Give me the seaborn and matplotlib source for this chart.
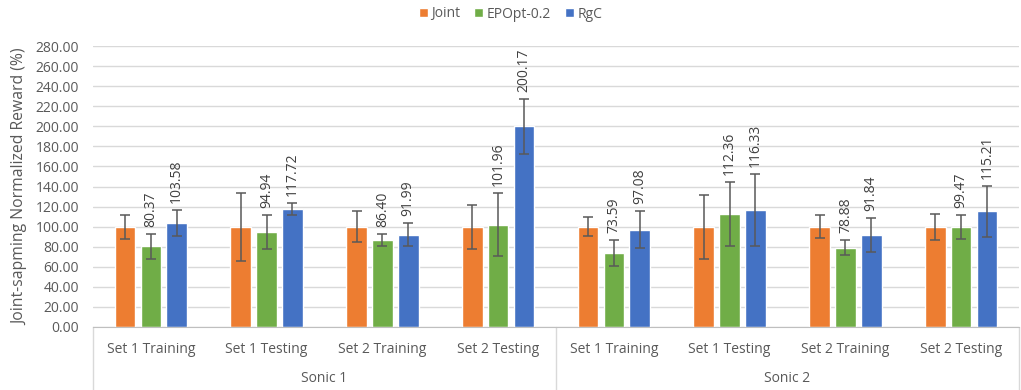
import numpy as np
import pandas as pd
import matplotlib
matplotlib.use("Agg")
import matplotlib.pyplot as plt
import seaborn as sns

# data
groups = ["Sonic 1", "Sonic 2"]
sets = ["Set 1 Training", "Set 1 Testing", "Set 2 Training", "Set 2 Testing"]
methods = ["Joint", "EPOpt-0.2", "RgC"]

joint = [100.00, 100.00, 100.00, 100.00, 100.00, 100.00, 100.00, 100.00]
epopt = [80.37, 94.94, 86.40, 101.96, 73.59, 112.36, 78.88, 99.47]
rgc = [103.58, 117.72, 91.99, 200.17, 97.08, 116.33, 91.84, 115.21]

joint_err = [12.0, 34.0, 15.5, 22.0, 9.7, 31.8, 11.3, 13.0]
epopt_err = [12.5, 17.0, 6.0, 31.5, 13.3, 32.0, 7.5, 12.0]
rgc_err = [13.3, 6.0, 11.7, 27.5, 18.3, 36.0, 17.0, 25.7]

colors = ["#ED7D31", "#70AD47", "#4472C4"]
text_col = "#595959"

cats = [g + "|" + s for g in groups for s in sets]
df = pd.DataFrame({
    "cat": cats * 3,
    "method": [m for m in methods for _ in cats],
    "value": joint + epopt + rgc,
})
errs = [joint_err, epopt_err, rgc_err]

sns.set_style("white")
plt.rcParams["font.family"] = ["Open Sans", "DejaVu Sans"]

fig = plt.figure(figsize=(10.21, 3.9), dpi=100)
ax = fig.add_axes([93 / 1021, 63 / 390, 926 / 1021, 281 / 390])

sns.barplot(data=df, x="cat", y="value", hue="method", hue_order=methods,
            order=cats, palette=colors, saturation=1, width=0.67, gap=0.2,
            errorbar=None, ax=ax, legend=True)

# error bars and rotated data labels
bar_conts = list(ax.containers)
for i, cont in enumerate(bar_conts):
    xs = [p.get_x() + p.get_width() / 2 for p in cont.patches]
    hs = [p.get_height() for p in cont.patches]
    ax.errorbar(xs, hs, yerr=errs[i], fmt="none", ecolor="#595959",
                elinewidth=1.1, capsize=3.3, capthick=1.1, zorder=5)
    if i > 0:
        for x, h, e in zip(xs, hs, errs[i]):
            ax.annotate(f"{h:.2f}", (x, h + e), xytext=(0, 5),
                        textcoords="offset points", rotation=90,
                        ha="center", va="bottom", fontsize=10, color="#404040")

ax.set_ylim(0, 280)
ax.set_xlim(-0.5, len(cats) - 0.5)
ax.set_yticks(np.arange(0, 281, 20))
ax.set_yticklabels([f"{v:.2f}" for v in np.arange(0, 281, 20)])
ax.yaxis.grid(True, color="#d9d9d9", linewidth=1)
ax.set_axisbelow(True)
for s in ["top", "right", "left"]:
    ax.spines[s].set_visible(False)
ax.spines["bottom"].set_color("#bfbfbf")
ax.tick_params(axis="y", length=0, labelsize=10, labelcolor=text_col, pad=10)
ax.tick_params(axis="x", length=0, labelsize=10, labelcolor=text_col, pad=11)
ax.set_xticks(range(len(cats)))
ax.set_xticklabels([c.split("|")[1] for c in cats])
ax.set_xlabel("")
ax.set_ylabel("Joint-sapming Normalized Reward (%)", fontsize=11.3,
              color=text_col, labelpad=5)

# group labels and separators below the axis
trans = ax.get_xaxis_transform()
for k, g in enumerate(groups):
    ax.text(k * len(sets) + (len(sets) - 1) / 2, -0.185, g, transform=trans,
            ha="center", va="center", fontsize=10, color=text_col)
for xb in [-0.5, 3.5, 7.5]:
    ax.plot([xb, xb], [0, -0.23], transform=trans, color="#d9d9d9",
            linewidth=1, clip_on=False)

handles, labels = ax.get_legend_handles_labels()
ax.get_legend().remove()
fig.legend(handles, labels, loc="center", bbox_to_anchor=(0.5, 1 - 14 / 390),
           ncol=3, frameon=False, fontsize=10, labelcolor=text_col,
           handlelength=0.65, handleheight=0.65, handletextpad=0.25,
           columnspacing=1.0)

fig.savefig("out.png", dpi=100)
